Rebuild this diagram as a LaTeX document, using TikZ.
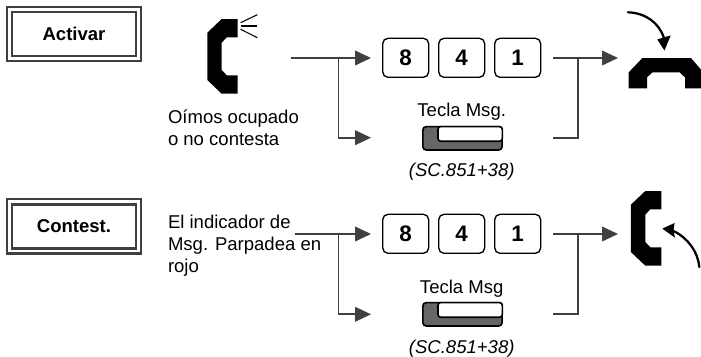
\documentclass[tikz,border=0pt]{standalone}
\usepackage{fontspec}
\setmainfont{Liberation Sans}
\usetikzlibrary{arrows.meta}
\definecolor{ink}{HTML}{404040}
\definecolor{keygray}{HTML}{666666}
\tikzset{
  x=0.75pt,y=-0.75pt,
  txt/.style={inner sep=0pt,outer sep=0pt,font=\fontsize{13.9pt}{16.5pt}\selectfont},
  para/.style={txt,align=left,anchor=north west},
  frameout/.style={draw=ink,line width=1.7pt,inner sep=0pt,minimum width=100.5pt,minimum height=41pt},
  framein/.style={draw=ink,line width=2.2pt,inner sep=0pt,minimum width=93pt,minimum height=33pt,font=\fontsize{13.9pt}{16.5pt}\selectfont\bfseries},
  numkey/.style={draw=black,line width=1pt,rounded corners=4pt,inner sep=0pt,minimum width=34.5pt,minimum height=29.25pt,font=\fontsize{16.8pt}{18pt}\selectfont\bfseries},
  conn/.style={draw=ink,line width=1.35pt},
  arr/.style={conn,-{Triangle[length=12pt,width=11pt,color=ink]}},
  sound/.style={draw=black,line width=0.8pt},
  curvearrow/.style={draw=black,line width=1.7pt,line cap=round}
}
\newcommand{\msgkey}[2]{%
  \node[draw=black,line width=1.2pt,fill=keygray,rounded corners=2.5pt,inner sep=0pt,minimum width=59.5pt,minimum height=17.5pt] (#2) at (462.5,#1) {};
  \filldraw[draw=black,line width=1.2pt,fill=white,rounded corners=2pt]
     ({438},{#1-11.7}) -- ({438},{#1+2.9}) -- ({502.3},{#1+2.9}) -- ({502.3},{#1-11.7}) -- cycle;
}
\newcommand{\phonepoly}{(237.7,19) -- (237.7,37.3) -- (226.7,37.3) -- (221.7,42.7) -- (221.7,70) -- (226.7,75.3) -- (237.7,75.3) -- (237.7,93.7) -- (221.7,93.7) -- (207.3,80) -- (207.3,32.7) -- (221.7,19) -- cycle}
\begin{document}
\begin{tikzpicture}
\useasboundingbox (0,0) rectangle (701,357);
\clip (0,0) rectangle (701,357);

% mode frames
\node[frameout] (fa) at (74,34) {};
\node[framein] (fi) at (74,34) {Activar};
\node[frameout] (ga) at (74,226.2) {};
\node[framein] (gi) at (74,226.2) {Contest.};

% phones
\fill[black] \phonepoly;
\draw[sound] (240.7,22.7) -- (257.3,14.7);
\draw[sound] (240.7,26) -- (257.3,26);
\draw[sound] (240.7,29.3) -- (257.3,37.7);
\fill[black,shift={(423.6,172)}] \phonepoly;
\fill[black] (628.7,88.4) -- (647,88.4) -- (647,77.4) -- (652.4,72.4) -- (679.7,72.4) -- (685,77.4) -- (685,88.4) -- (703.4,88.4) -- (703.4,72.4) -- (691,58) -- (642.4,58) -- (628.7,72.4) -- cycle;

% curved arrows
\draw[curvearrow] (628,12.3) .. controls (646,13) and (659,23) .. (664,38);
\fill[black] (664.5,50.5) -- (657.3,39.5) -- (664,37.3) -- (670.7,35.5) -- cycle;
\draw[curvearrow] (699.3,267) .. controls (698,252) and (688,238) .. (673.5,231);
\fill[black] (662.3,228.6) -- (674.6,223) -- (673.5,231) -- (675,237.7) -- cycle;

% texts
\node[para] (t1) at (168,110) {Oímos ocupado\\o no contesta};
\node[para] (t2) at (168,215.5) {El indicador de\\Msg. Parpadea en\\rojo};

% keys row 1
\node[numkey] (k8a) at (405.7,57.8) {8};
\node[numkey] (k4a) at (461.7,57.8) {4};
\node[numkey] (k1a) at (517.7,57.8) {1};
\node[txt,anchor=base] (ta) at (461.7,116.7) {Tecla Msg.};
\msgkey{138.3}{ma}
\node[txt,anchor=base] (sa) at (461.7,176.7) {\itshape (SC.851+38)};

% keys row 2
\node[numkey] (k8b) at (405.7,233.8) {8};
\node[numkey] (k4b) at (461.7,233.8) {4};
\node[numkey] (k1b) at (517.7,233.8) {1};
\node[txt,anchor=base] (tb) at (461.7,293.3) {Tecla Msg};
\msgkey{314.3}{mb}
\node[txt,anchor=base] (sb) at (461.7,353.3) {\itshape (SC.851+38)};

% connectors row 1
\coordinate (s1) at (291,58);
\coordinate (j1) at (338.5,58);
\coordinate (in1) at (371,58);
\coordinate (in2) at (371,137.7);
\coordinate (o1) at (553.3,58);
\coordinate (o2) at (553.3,137.7);
\coordinate (j2) at (578.3,58);
\coordinate (e1) at (618,58);
\draw[conn] (s1) -- (j1);
\draw[arr] (j1) -- (in1);
\draw[arr] (j1) |- (in2);
\draw[conn] (o2) -| (j2);
\draw[arr] (o1) -- (e1);

% connectors row 2
\coordinate (s2) at (295,234);
\coordinate (j3) at (338.5,234);
\coordinate (in3) at (371,234);
\coordinate (in4) at (371,314.3);
\coordinate (o3) at (553.3,234);
\coordinate (o4) at (553.3,314.3);
\coordinate (j4) at (578.3,234);
\coordinate (e2) at (618,234);
\draw[conn] (s2) -- (j3);
\draw[arr] (j3) -- (in3);
\draw[arr] (j3) |- (in4);
\draw[conn] (o4) -| (j4);
\draw[arr] (o3) -- (e2);
\end{tikzpicture}
\end{document}
